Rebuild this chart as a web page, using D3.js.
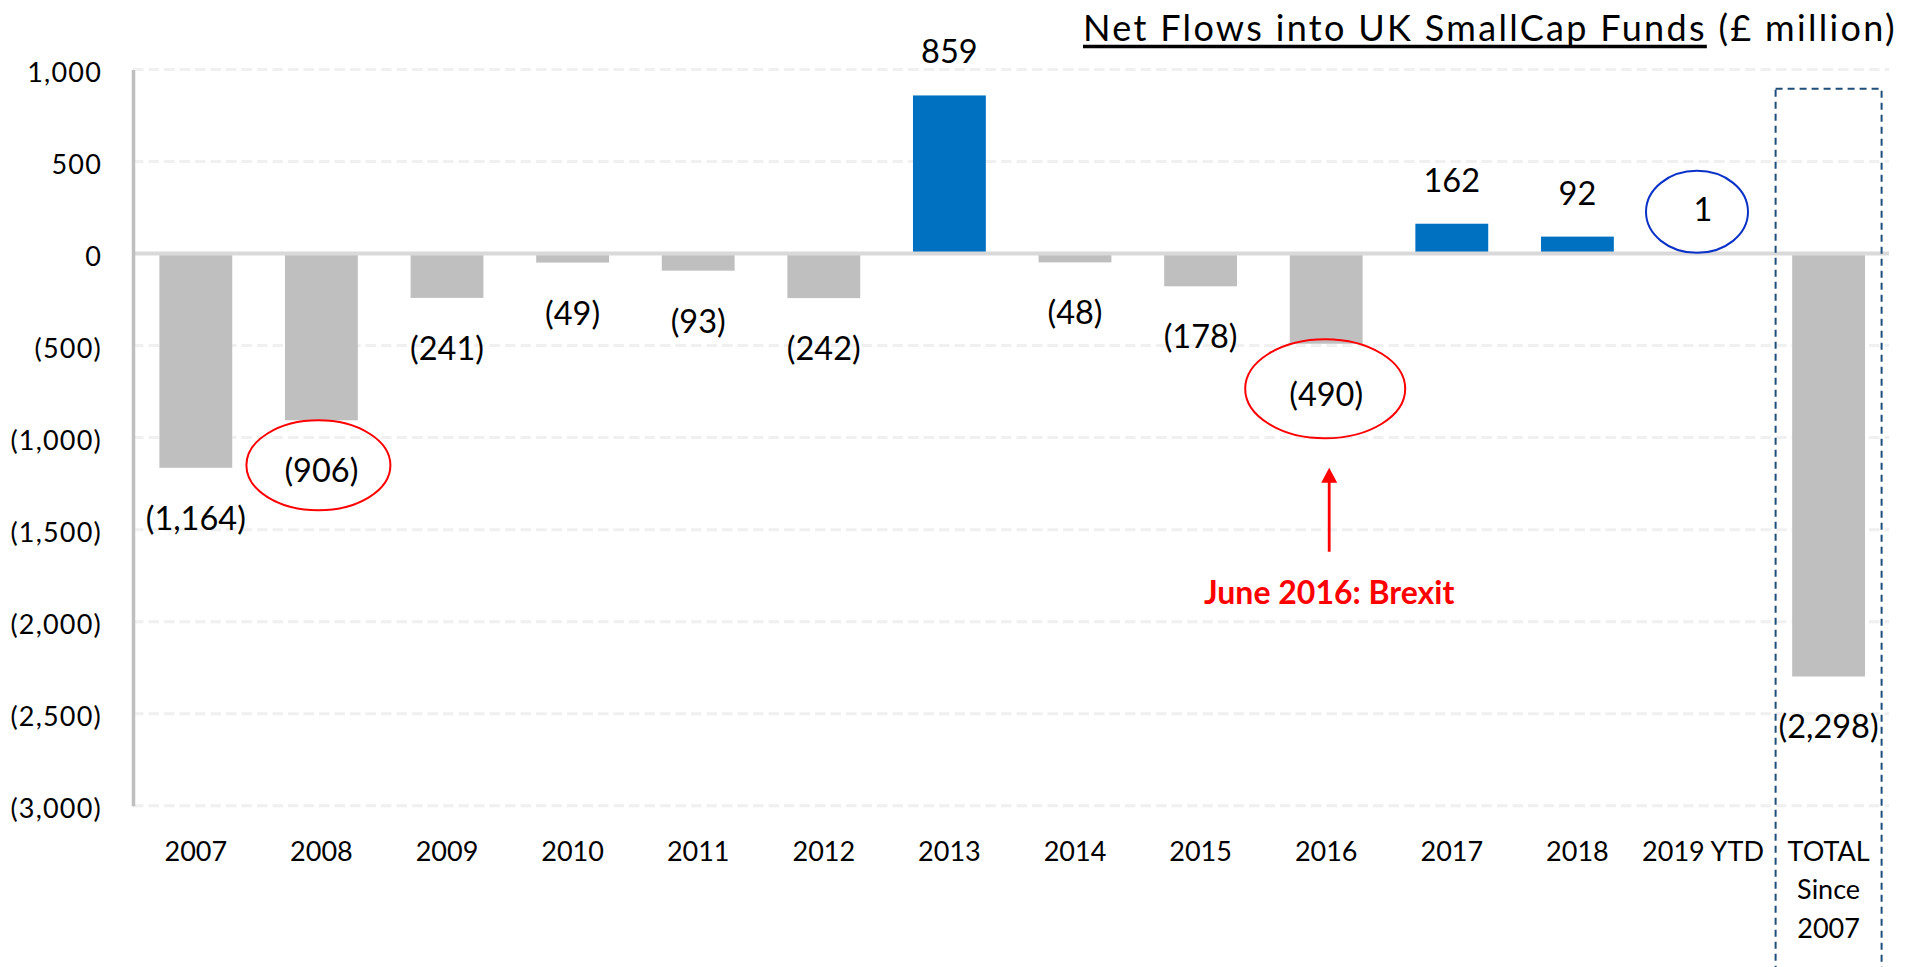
<!DOCTYPE html>
<html>
<head>
<meta charset="utf-8">
<script src="https://cdn.jsdelivr.net/npm/d3@7"></script>
<style>
  html, body { margin: 0; padding: 0; background: #ffffff; }
  svg { display: block; font-family: Lato, "Noto Sans", sans-serif; }
</style>
</head>
<body>
<svg id="chart" width="1918" height="967"></svg>
<script>
// Net flows into UK SmallCap funds, £ million
const categories = ["2007", "2008", "2009", "2010", "2011", "2012", "2013", "2014",
                    "2015", "2016", "2017", "2018", "2019 YTD", "TOTAL Since 2007"];
const netFlows = [-1164, -906, -241, -49, -93, -242, 859, -48, -178, -490, 162, 92, 1, -2298];
const yTicks = [1000, 500, 0, -500, -1000, -1500, -2000, -2500, -3000];
const categoryLines = [["2007"], ["2008"], ["2009"], ["2010"], ["2011"], ["2012"], ["2013"],
                       ["2014"], ["2015"], ["2016"], ["2017"], ["2018"], ["2019 YTD"],
                       ["TOTAL", "Since", "2007"]];
const circled = ["2008", "2016", "2019 YTD"];
const titleMain = "Net Flows into UK SmallCap Funds";
const titleUnit = " (£ million)";
const brexitNote = "June 2016: Brexit";
const brexitYear = "2016";
const totalKey = "TOTAL Since 2007";

const data = categories.map((c, i) => ({ cat: c, value: netFlows[i] }));

const svg = d3.select("#chart");
const plotLeft = 133, plotRight = 1891.4, plotTop = 69.5, plotBottom = 805.7;

const x = d3.scaleBand().domain(categories).range([plotLeft, plotRight])
  .paddingInner(0.42).paddingOuter(0.21);
const y = d3.scaleLinear().domain([-3000, 1000]).range([plotBottom, plotTop]);

const fmt = v => v < 0 ? "(" + d3.format(",")(-v) + ")" : d3.format(",")(v);
const cx = c => x(c) + x.bandwidth() / 2;
const labelSize = 32.5;

// dashed horizontal gridlines
svg.append("g").selectAll("line").data(yTicks.filter(t => t !== 0)).join("line")
  .attr("x1", plotLeft).attr("x2", 1889)
  .attr("y1", d => y(d)).attr("y2", d => y(d))
  .attr("stroke", "#f0f0f0").attr("stroke-width", 3)
  .attr("stroke-dasharray", "10.5 5");

// bars
svg.append("g").selectAll("rect").data(data).join("rect")
  .attr("x", d => x(d.cat))
  .attr("width", x.bandwidth())
  .attr("y", d => y(Math.max(0, d.value)))
  .attr("height", d => Math.abs(y(d.value) - y(0)))
  .attr("fill", d => d.value > 1 ? "#0070c0" : "#bfbfbf");

// zero baseline
svg.append("line")
  .attr("x1", plotLeft).attr("x2", 1889)
  .attr("y1", y(0)).attr("y2", y(0))
  .attr("stroke", "#d9d9d9").attr("stroke-width", 4);

// y axis
const yAxis = d3.axisLeft(y).tickValues(yTicks).tickSize(0).tickPadding(31)
  .tickFormat(fmt);
const gy = svg.append("g").attr("transform", `translate(${plotLeft},0)`).call(yAxis);
gy.select(".domain").attr("stroke", "#bfbfbf").attr("stroke-width", 3.5);
gy.selectAll("text").attr("font-size", 27).attr("fill", "#000")
  .attr("font-family", "Lato, sans-serif").attr("dy", "0.44em")
  .attr("letter-spacing", 1.2);

// x axis category labels (multi-line for the total)
const xAxis = d3.axisBottom(x).tickSize(0).tickPadding(0).tickFormat("");
const gx = svg.append("g").attr("transform", `translate(0,${plotBottom})`).call(xAxis);
gx.select(".domain").remove();
gx.selectAll(".tick").each(function (d, i) {
  const t = d3.select(this).append("text")
    .attr("font-size", 27).attr("fill", "#000").attr("text-anchor", "middle")
    .attr("font-family", "Lato, sans-serif");
  categoryLines[i].forEach((line, k) => {
    t.append("tspan").attr("x", 0).attr("y", 55 + k * 38.5).text(line);
  });
});

// value labels
svg.append("g").selectAll("text").data(data).join("text")
  .attr("x", d => cx(d.cat))
  .attr("y", d => d.value >= 0 ? y(d.value) - 32 : y(d.value) + 62)
  .attr("text-anchor", "middle")
  .attr("font-size", labelSize).attr("fill", "#000")
  .text(d => fmt(d.value));

// highlight ellipses around selected labels
const ellipseSpec = {
  "2008": { dx: -3, rx: 72, ry: 45, color: "#ff0000" },
  "2016": { dx: -1, rx: 80, ry: 49.5, color: "#ff0000" },
  "2019 YTD": { dx: -6, rx: 51, ry: 41, color: "#0b32c8" }
};
svg.append("g").selectAll("ellipse").data(data.filter(d => circled.includes(d.cat))).join("ellipse")
  .attr("cx", d => cx(d.cat) + ellipseSpec[d.cat].dx)
  .attr("cy", d => d.value >= 0 ? y(d.value) - 41.5 : y(d.value) + 45)
  .attr("rx", d => ellipseSpec[d.cat].rx)
  .attr("ry", d => ellipseSpec[d.cat].ry)
  .attr("fill", "none")
  .attr("stroke", d => ellipseSpec[d.cat].color)
  .attr("stroke-width", 2);

// Brexit arrow and note
const bx = cx(brexitYear) + 3;
const tipY = y(-490) + 124;
svg.append("line")
  .attr("x1", bx).attr("x2", bx)
  .attr("y1", tipY + 12).attr("y2", tipY + 84)
  .attr("stroke", "#ff0000").attr("stroke-width", 2.8);
svg.append("path")
  .attr("d", `M${bx},${tipY} L${bx - 8},${tipY + 15} L${bx + 8},${tipY + 15} Z`)
  .attr("fill", "#ff0000");
svg.append("text")
  .attr("x", bx).attr("y", tipY + 136)
  .attr("text-anchor", "middle")
  .attr("font-size", 32).attr("font-weight", 700).attr("fill", "#ff0000")
  .text(brexitNote);

// dashed frame around the cumulative total
const bw = 106;
svg.append("rect")
  .attr("x", cx(totalKey) - bw / 2).attr("y", 88.7)
  .attr("width", bw).attr("height", 900)
  .attr("fill", "none").attr("stroke", "#1f4e79").attr("stroke-width", 2)
  .attr("stroke-dasharray", "7 5");

// title with underlined main part, spaced to span its row
const titleLeft = 1083, titleWidth = 814;
const title = svg.append("text").attr("x", titleLeft).attr("y", 41)
  .attr("font-size", 36).attr("fill", "#000");
const tMain = title.append("tspan").text(titleMain);
title.append("tspan").text(titleUnit);
const nChars = (titleMain + titleUnit).length;
const w0 = title.node().getComputedTextLength();
title.attr("letter-spacing", (titleWidth - w0) / nChars);
const mainW = tMain.node().getComputedTextLength();
svg.append("line")
  .attr("x1", titleLeft).attr("x2", titleLeft + mainW)
  .attr("y1", 46.5).attr("y2", 46.5)
  .attr("stroke", "#000").attr("stroke-width", 3.5);
</script>
</body>
</html>
